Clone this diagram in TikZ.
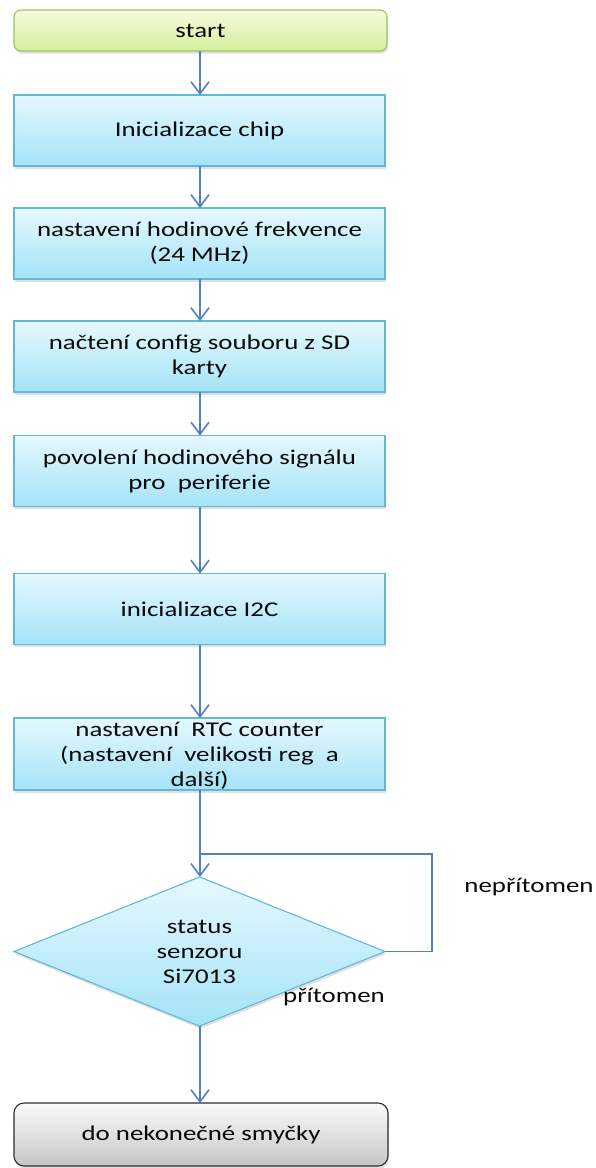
\documentclass[tikz,border=0pt]{standalone}
\usepackage{fontspec}
\setmainfont[FakeStretch=1.28]{Carlito}
\usetikzlibrary{arrows.meta,shapes.geometric,shadows}

\definecolor{flowline}{HTML}{4F81C4}
\definecolor{boxedge}{HTML}{62B8D6}
\definecolor{boxtop}{HTML}{E6F8FE}
\definecolor{boxbot}{HTML}{A4E3F7}
\definecolor{startedge}{HTML}{A2C064}
\definecolor{starttop}{HTML}{F5FBDB}
\definecolor{startbot}{HTML}{D5EF9E}
\definecolor{endedge}{HTML}{2E2E2E}
\definecolor{endtop}{HTML}{FAFAFA}
\definecolor{endbot}{HTML}{C6C6C6}
\definecolor{ink}{HTML}{0A0A0A}

\tikzset{
  softshadow/.style={drop shadow={shadow xshift=1pt, shadow yshift=-2.5pt, opacity=0.25}},
  procbox/.style={draw=boxedge, line width=1.1pt, top color=boxtop, bottom color=boxbot,
    minimum width=371pt, minimum height=71pt, inner sep=0pt, outer sep=0pt,
    align=center, text=ink, softshadow},
  startbox/.style={draw=startedge, line width=1.1pt, rounded corners=7pt,
    top color=starttop, bottom color=startbot,
    minimum width=373pt, minimum height=41pt, inner sep=0pt, outer sep=0pt,
    align=center, text=ink, softshadow},
  endbox/.style={draw=endedge, line width=1.1pt, rounded corners=10pt,
    top color=endtop, bottom color=endbot,
    minimum width=374pt, minimum height=63pt, inner sep=0pt, outer sep=0pt,
    align=center, text=ink, softshadow},
  decision/.style={diamond, draw=boxedge, line width=1.1pt, top color=boxtop, bottom color=boxbot,
    minimum width=371pt, minimum height=125pt, inner sep=0pt, outer sep=0pt,
    align=center, text=ink, softshadow},
  flow/.style={draw=flowline, line width=1.6pt},
  flowarrow/.style={flow, -{Straight Barb[length=12pt,width=18pt]}},
  tag/.style={text=ink, inner sep=0pt, align=center}
}

\begin{document}
\begin{tikzpicture}[x=1pt, y=-1pt, font=\fontsize{21}{25}\selectfont]
  \useasboundingbox (0,0) rectangle (595,1168);

  % process chain
  \node[startbox] (start) at (200.5,30.5) {start};
  \node[procbox] (b1) at (199.5,130.5) {Inicializace chip};
  \node[procbox] (b2) at (199.5,243.5) {nastavení hodinové frekvence\\(24 MHz)};
  \node[procbox] (b3) at (199.5,356.5) {načtení config souboru z SD\\karty};
  \node[procbox] (b4) at (199.5,471) {povolení hodinového signálu\\pro~~periferie};
  \node[procbox] (b5) at (199.5,609) {inicializace I2C};
  \node[procbox, minimum height=72pt] (b6) at (199.5,754) {};
  \node[tag] (b6txt) at (199.5,756)
    {nastavení~~RTC counter\\(nastavení~~velikosti reg~~a\\další)};
  \node[decision] (dia) at (199.5,951.5) {status\\senzoru\\Si7013};
  \node[endbox] (stop) at (201,1134.5) {do nekonečné smyčky};

  % branch labels
  \node[tag] (absent) at (529,887) {nepřítomen};
  \node[tag] (present) at (334,997) {přítomen};

  % connectors, all on the common axis x = 200
  \coordinate (axis) at (200,0);
  \draw[flowarrow] (start.south -| axis) -- (b1.north -| axis);
  \draw[flowarrow] (b1.south -| axis) -- (b2.north -| axis);
  \draw[flowarrow] (b2.south -| axis) -- (b3.north -| axis);
  \draw[flowarrow] (b3.south -| axis) -- (b4.north -| axis);
  \draw[flowarrow] (b4.south -| axis) -- (b5.north -| axis);
  \draw[flowarrow] (b5.south -| axis) -- (b6.north -| axis);
  \draw[flowarrow] (b6.south -| axis) -- (dia.north -| axis);
  \draw[flowarrow] (dia.south -| axis) -- (stop.north -| axis);

  % retry loop while the sensor is missing
  \coordinate (join) at (200,854);
  \coordinate (loopcorner) at (432,854);
  \draw[flow] (dia.east) -| (loopcorner) -- (join);
\end{tikzpicture}
\end{document}
